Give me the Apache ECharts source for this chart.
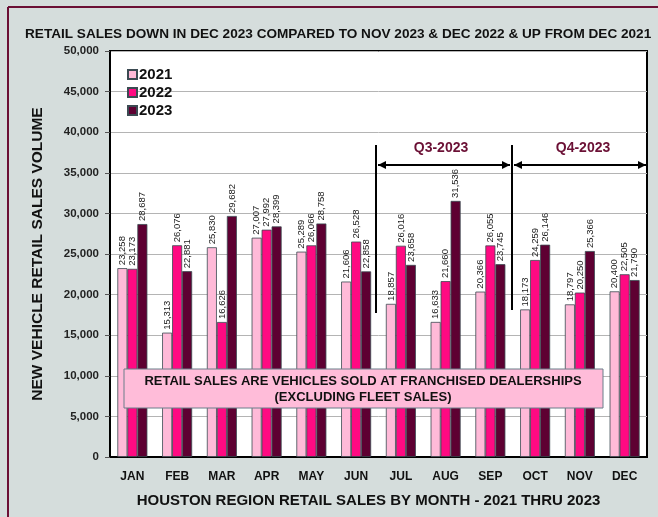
<!DOCTYPE html>
<html>
<head>
<meta charset="utf-8">
<script src="https://cdn.jsdelivr.net/npm/echarts@6/dist/echarts.min.js"></script>
<style>
  html, body { margin: 0; padding: 0; background: #d5dddc; }
  #main { width: 658px; height: 517px; }
</style>
</head>
<body>
<div id="main"></div>
<script>
var months = ['JAN', 'FEB', 'MAR', 'APR', 'MAY', 'JUN', 'JUL', 'AUG', 'SEP', 'OCT', 'NOV', 'DEC'];
var sales2021 = [23258, 15313, 25830, 27007, 25289, 21606, 18857, 16633, 20366, 18173, 18797, 20400];
var sales2022 = [23173, 26076, 16626, 27992, 26066, 26528, 26016, 21660, 26055, 24259, 20250, 22505];
var sales2023 = [28687, 22881, 29682, 28399, 28758, 22858, 23658, 31536, 23745, 26146, 25366, 21790];

var maroon = '#6b1035';
var font = 'Liberation Sans, Arial, sans-serif';
var narrow = 'Liberation Sans Narrow, Arial Narrow, Liberation Sans, sans-serif';

function fmt(v) {
  return v.toLocaleString('en-US');
}

// rotated value label above each bar
var barLabel = {
  show: true,
  position: 'top',
  rotate: 90,
  align: 'left',
  verticalAlign: 'middle',
  distance: 3,
  color: '#1a1a1a',
  fontSize: 9.5,
  fontFamily: narrow,
  formatter: function (p) { return fmt(p.value); }
};

function makeSeries(name, data, color) {
  return {
    name: name,
    type: 'bar',
    data: data,
    barWidth: 10,
    barGap: '0%',
    itemStyle: { color: color, borderColor: '#3b4a52', borderWidth: 0.8 },
    label: barLabel
  };
}

function arrow(x1, x2, y) {
  // horizontal line with heads on both ends
  return [
    { type: 'line', shape: { x1: x1, y1: y, x2: x2, y2: y }, style: { stroke: '#000', lineWidth: 2 }, z: 10 },
    { type: 'polygon', shape: { points: [[x1, y], [x1 + 8, y - 4], [x1 + 8, y + 4]] }, style: { fill: '#000' }, z: 10 },
    { type: 'polygon', shape: { points: [[x2, y], [x2 - 8, y - 4], [x2 - 8, y + 4]] }, style: { fill: '#000' }, z: 10 }
  ];
}

var chart = echarts.init(document.getElementById('main'));

var option = {
  backgroundColor: '#d5dddc',
  animation: false,
  title: {
    text: 'RETAIL SALES DOWN IN DEC 2023 COMPARED TO NOV 2023 & DEC 2022 & UP FROM DEC 2021',
    left: 20,
    top: 22,
    textStyle: { fontSize: 13.6, fontWeight: 'bold', color: '#111', fontFamily: font }
  },
  legend: {
    orient: 'vertical',
    left: 122,
    top: 62,
    itemWidth: 9,
    itemHeight: 9,
    itemGap: 3,
    icon: 'rect',
    textStyle: { fontSize: 15, fontWeight: 'bold', color: '#111', fontFamily: font, padding: [0, 0, 0, -3] },
    data: ['2021', '2022', '2023']
  },
  grid: { left: 110, top: 51, right: 11, bottom: 60, show: true, backgroundColor: '#fff', borderColor: '#000', borderWidth: 2 },
  xAxis: {
    type: 'category',
    data: months,
    axisTick: { show: false },
    axisLine: { lineStyle: { color: '#000', width: 2 } },
    axisLabel: { fontSize: 12, fontWeight: 'bold', color: '#111', margin: 14, fontFamily: font },
    name: 'HOUSTON REGION RETAIL SALES BY MONTH - 2021 THRU 2023',
    nameLocation: 'middle',
    nameGap: 36,
    nameTextStyle: { fontSize: 15, fontWeight: 'bold', color: '#111', fontFamily: font, padding: [0, 20, 0, 0] }
  },
  yAxis: {
    type: 'value',
    min: 0,
    max: 50000,
    interval: 5000,
    axisLine: { show: true, lineStyle: { color: '#000', width: 2 } },
    axisTick: { show: true, length: 5, lineStyle: { color: '#555' } },
    splitLine: { lineStyle: { color: '#b4b4b4', width: 1 } },
    axisLabel: { fontSize: 11.5, fontWeight: 'bold', color: '#222', margin: 11, fontFamily: font, formatter: fmt },
    name: 'NEW VEHICLE RETAIL SALES VOLUME',
    nameLocation: 'middle',
    nameGap: 64,
    nameTextStyle: { fontSize: 15.5, fontWeight: 'bold', color: '#111', fontFamily: font }
  },
  series: [
    makeSeries('2021', sales2021, '#ffbad8'),
    makeSeries('2022', sales2022, '#ff0a82'),
    makeSeries('2023', sales2023, '#5e0032')
  ],
  graphic: [
    // outer frame
    { type: 'line', shape: { x1: 8, y1: 7, x2: 8, y2: 517 }, style: { stroke: maroon, lineWidth: 2 } },
    { type: 'line', shape: { x1: 8, y1: 7, x2: 658, y2: 7 }, style: { stroke: maroon, lineWidth: 2 } },
    // quarter separators
    { type: 'line', shape: { x1: 376, y1: 145, x2: 376, y2: 313 }, style: { stroke: '#000', lineWidth: 2 }, z: 10 },
    { type: 'line', shape: { x1: 512, y1: 145, x2: 512, y2: 310 }, style: { stroke: '#000', lineWidth: 2 }, z: 10 }
  ]
    .concat(arrow(378, 510, 165))
    .concat(arrow(514, 646, 165))
    .concat([
      { type: 'text', x: 441, y: 148, style: { text: 'Q3-2023', fill: maroon, font: 'bold 14px ' + font, textAlign: 'center', textVerticalAlign: 'middle' }, z: 10 },
      { type: 'text', x: 583, y: 148, style: { text: 'Q4-2023', fill: maroon, font: 'bold 14px ' + font, textAlign: 'center', textVerticalAlign: 'middle' }, z: 10 },
      // note box
      { type: 'rect', shape: { x: 124, y: 369, width: 479, height: 39 }, style: { fill: '#ffbcd9', stroke: '#6b7f8a', lineWidth: 1 }, z: 10 },
      { type: 'text', x: 363, y: 389, style: { text: 'RETAIL SALES ARE VEHICLES SOLD AT FRANCHISED DEALERSHIPS\n(EXCLUDING FLEET SALES)', fill: '#111', font: 'bold 13px ' + font, textAlign: 'center', textVerticalAlign: 'middle', lineHeight: 16 }, z: 11 }
    ])
};

chart.setOption(option);
</script>
</body>
</html>
